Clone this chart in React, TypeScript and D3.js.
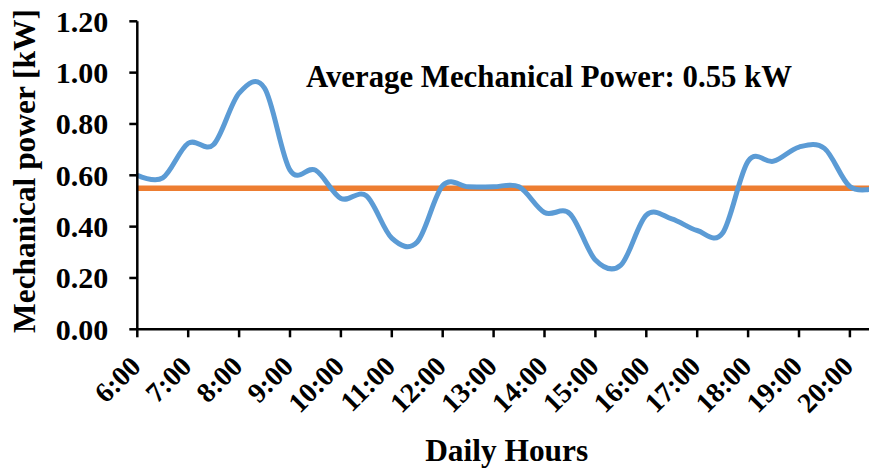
import * as d3 from 'd3';

// half-hourly readings, 6:00 to 20:30
const times = [
  '6:00', '6:30', '7:00', '7:30', '8:00', '8:30', '9:00', '9:30', '10:00', '10:30',
  '11:00', '11:30', '12:00', '12:30', '13:00', '13:30', '14:00', '14:30', '15:00', '15:30',
  '16:00', '16:30', '17:00', '17:30', '18:00', '18:30', '19:00', '19:30', '20:00', '20:30',
];
const power = [
  0.6, 0.59, 0.725, 0.72, 0.92, 0.94, 0.62, 0.62, 0.51, 0.52,
  0.355, 0.34, 0.56, 0.555, 0.555, 0.555, 0.455, 0.45, 0.27, 0.25,
  0.445, 0.43, 0.385, 0.375, 0.655, 0.655, 0.71, 0.705, 0.556, 0.55,
];
const hourTicks = ['6:00', '7:00', '8:00', '9:00', '10:00', '11:00', '12:00', '13:00', '14:00', '15:00', '16:00', '17:00', '18:00', '19:00', '20:00'];
const yTicks = [0, 0.2, 0.4, 0.6, 0.8, 1.0, 1.2];
const averagePower = 0.55;

const width = 869;
const height = 472;
const left = 137.3;
const step = 50.9; // px per hour

const toHours = (t: string) => {
  const [h, m] = t.split(':').map(Number);
  return h + m / 60;
};

const x = d3.scaleLinear().domain([6, 20.5]).range([left, left + 14.5 * step]);
const y = d3.scaleLinear().domain([0, 1.2]).range([329.3, 21.3]);

const data = times.map((t, i) => ({ h: toHours(t), v: power[i] }));
const line = d3
  .line<{ h: number; v: number }>()
  .x((d) => x(d.h))
  .y((d) => y(d.v))
  .curve(d3.curveCardinal.tension(0));

const txt = { fontFamily: 'Liberation Serif', fontWeight: 'bold' as const };
const fmt = d3.format('.2f');

export default function App() {
  const y0 = y(0);
  return (
    <div style={{ position: 'fixed', left: 0, top: 0 }}>
      <svg width={width} height={height} style={{ display: 'block', background: '#fff' }}>
        <line x1={x(6)} x2={width} y1={y(averagePower)} y2={y(averagePower)} stroke="#ED7D31" strokeWidth={5.5} />
        <path d={line(data) ?? ''} fill="none" stroke="#5B9BD5" strokeWidth={5} strokeLinejoin="round" />

        {/* x axis */}
        <line x1={left} x2={width} y1={y0} y2={y0} stroke="#000" strokeWidth={2.5} />
        {hourTicks.map((t) => {
          const px = x(toHours(t));
          return (
            <g key={t}>
              <line x1={px} x2={px} y1={y0} y2={y0 + 8} stroke="#000" strokeWidth={2.5} />
              <text
                transform={`translate(${px + 5},368) rotate(-45)`}
                textAnchor="end"
                fontSize={28}
                style={txt}
              >
                {t}
              </text>
            </g>
          );
        })}

        {/* y axis */}
        <line x1={left} x2={left} y1={y(1.2)} y2={y0} stroke="#000" strokeWidth={2.5} />
        {yTicks.map((v) => (
          <g key={v}>
            <line x1={left - 8} x2={left} y1={y(v)} y2={y(v)} stroke="#000" strokeWidth={2.5} />
            <text x={left - 29} y={y(v)} dy="0.34em" textAnchor="end" fontSize={30} style={txt}>
              {fmt(v)}
            </text>
          </g>
        ))}

        <text transform="translate(35,171) rotate(-90)" textAnchor="middle" fontSize={31.4} style={txt}>
          Mechanical power [kW]
        </text>
        <text x={506.7} y={461} textAnchor="middle" fontSize={31.4} style={txt}>
          Daily Hours
        </text>
        <text x={306} y={87} fontSize={30.8} style={txt}>
          {`Average Mechanical Power: ${fmt(averagePower)} kW`}
        </text>
      </svg>
    </div>
  );
}
